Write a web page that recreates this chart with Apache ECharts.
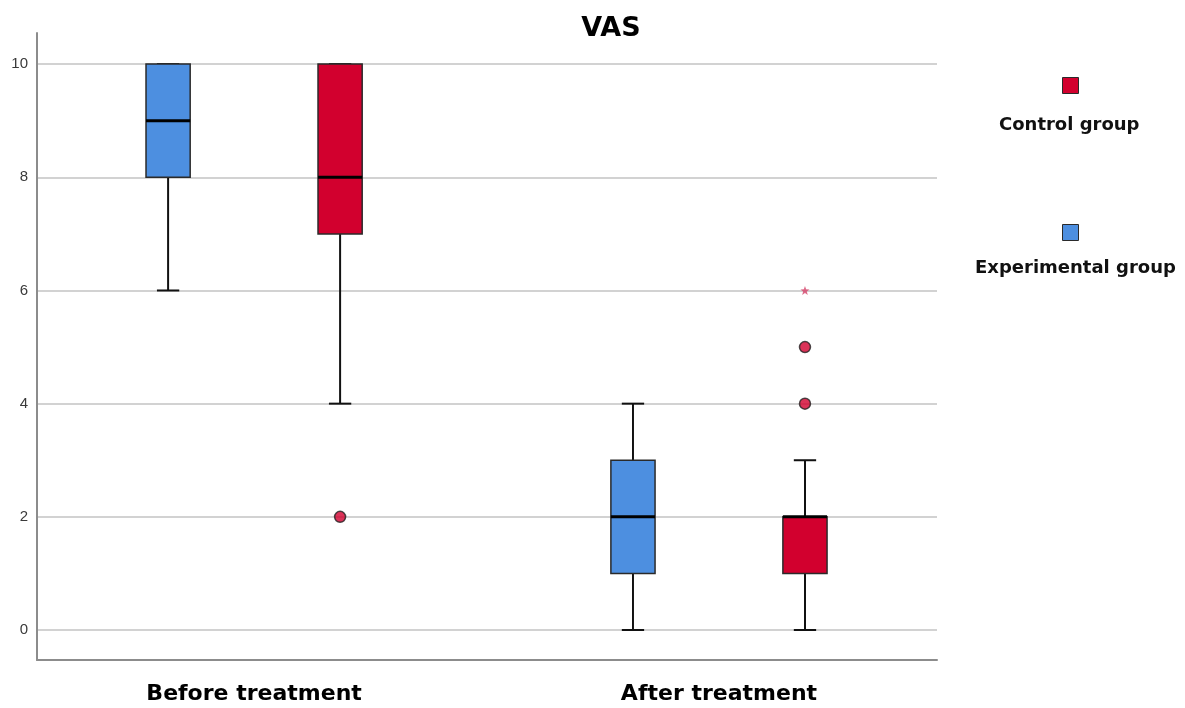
<!DOCTYPE html>
<html>
<head>
<meta charset="utf-8">
<script src="https://cdn.jsdelivr.net/npm/echarts@6/dist/echarts.min.js"></script>
<style>html,body{margin:0;padding:0;background:#fff;}#chart{width:1185px;height:708px;}</style>
</head>
<body>
<div id="chart"></div>
<script>
// ---- data ----
var categories = ['Before treatment', 'After treatment'];
var seriesNames = ['Control group', 'Experimental group'];
// [min, Q1, median, Q3, max] per category
var experimentalStats = [[6, 8, 9, 10, 10], [0, 1, 2, 3, 4]];
var controlStats = [[4, 7, 8, 10, 10], [0, 1, 2, 2, 3]];
// outliers: [categoryIndex, value]
var controlOutliers = [[0, 2], [1, 4], [1, 5]];
var controlExtremes = [[1, 6]];
var yTicks = [0, 2, 4, 6, 8, 10];

// ---- style / layout ----
var RED = '#D2002E', BLUE = '#4D8FE0', EDGE = '#2a2a2a';
var OFFSET = 0.185, BOXW = 0.095, CAPW = 0.048;
var FONT = '"DejaVu Sans"';

function boxData(stats, off) {
  return stats.map(function (s, i) { return [i + off].concat(s); });
}
function ptData(pts, off) {
  return pts.map(function (p) { return [p[0] + off, p[1]]; });
}

function renderBox(params, api) {
  var x = api.value(0);
  var mn = api.coord([x, api.value(1)]);
  var q1 = api.coord([x, api.value(2)]);
  var md = api.coord([x, api.value(3)]);
  var q3 = api.coord([x, api.value(4)]);
  var mx = api.coord([x, api.value(5)]);
  var bw = api.size([BOXW, 0])[0];
  var cw = api.size([CAPW, 0])[0];
  var cx = mn[0];
  var color = api.visual('color');
  var lineStyle = { stroke: '#111', lineWidth: 2 };
  return {
    type: 'group',
    children: [
      { type: 'line', shape: { x1: cx, y1: mn[1], x2: cx, y2: q1[1] }, style: lineStyle },
      { type: 'line', shape: { x1: cx, y1: q3[1], x2: cx, y2: mx[1] }, style: lineStyle },
      { type: 'line', shape: { x1: cx - cw / 2, y1: mn[1], x2: cx + cw / 2, y2: mn[1] }, style: lineStyle },
      { type: 'line', shape: { x1: cx - cw / 2, y1: mx[1], x2: cx + cw / 2, y2: mx[1] }, style: lineStyle },
      { type: 'rect', shape: { x: cx - bw / 2, y: q3[1], width: bw, height: q1[1] - q3[1] },
        style: { fill: color, stroke: EDGE, lineWidth: 1.5 } },
      { type: 'line', shape: { x1: cx - bw / 2, y1: md[1], x2: cx + bw / 2, y2: md[1] },
        style: { stroke: '#000', lineWidth: 3 } }
    ]
  };
}

var chart = echarts.init(document.getElementById('chart'));
chart.setOption({
  animation: false,
  backgroundColor: '#fff',
  title: {
    text: 'VAS', left: 611, top: 15, textAlign: 'center', padding: 0,
    textStyle: { fontFamily: FONT, fontSize: 27, fontWeight: 'bold', color: '#000' }
  },
  legend: [
    { data: [seriesNames[0]], left: 1062, top: 77, padding: 0, itemWidth: 16, itemHeight: 16, icon: 'rect',
      formatter: function () { return ''; }, itemStyle: { borderColor: EDGE, borderWidth: 1 }, selectedMode: false },
    { data: [seriesNames[1]], left: 1062, top: 224, padding: 0, itemWidth: 16, itemHeight: 16, icon: 'rect',
      formatter: function () { return ''; }, itemStyle: { borderColor: EDGE, borderWidth: 1 }, selectedMode: false }
  ],
  graphic: [
    { type: 'text', left: 999, top: 116, style: { text: seriesNames[0], fill: '#111',
      font: 'bold 18px ' + FONT } },
    { type: 'text', left: 975, top: 259, style: { text: seriesNames[1], fill: '#111',
      font: 'bold 18px ' + FONT } }
  ],
  grid: { left: 37, right: 248, top: 33, bottom: 48 },
  xAxis: {
    type: 'value', min: -0.467, max: 1.469,
    axisLine: { show: true, onZero: false, lineStyle: { color: '#8c8c8c', width: 2 } },
    axisTick: { show: false },
    splitLine: { show: false },
    axisLabel: {
      customValues: [0, 1], margin: 23,
      formatter: function (v) { return categories[Math.round(v)]; },
      fontFamily: FONT, fontSize: 22, fontWeight: 'bold', color: '#000'
    }
  },
  yAxis: {
    type: 'value', min: -0.53, max: 10.55,
    axisLine: { show: true, onZero: false, lineStyle: { color: '#8c8c8c', width: 2 } },
    axisTick: { show: false, customValues: yTicks },
    axisLabel: { customValues: yTicks, margin: 9, fontFamily: 'Liberation Sans', fontSize: 15, color: '#3a3a3a' },
    splitLine: { show: true, lineStyle: { color: '#d2d2d2', width: 2 } }
  },
  series: [
    { name: seriesNames[0], type: 'custom', renderItem: renderBox, color: RED, itemStyle: { color: RED },
      encode: { x: 0, y: [1, 2, 3, 4, 5] }, data: boxData(controlStats, OFFSET), z: 3 },
    { name: seriesNames[1], type: 'custom', renderItem: renderBox, color: BLUE, itemStyle: { color: BLUE },
      encode: { x: 0, y: [1, 2, 3, 4, 5] }, data: boxData(experimentalStats, -OFFSET), z: 3 },
    { name: 'outliers', type: 'scatter', symbol: 'circle', symbolSize: 11, z: 4,
      itemStyle: { color: RED, borderColor: '#222', borderWidth: 1.5 },
      data: ptData(controlOutliers, OFFSET) },
    { name: 'extremes', type: 'scatter', symbol: 'path://M0,-10 L2.4,-3.3 9.5,-3.1 3.9,1.3 5.9,8.1 0,4.1 -5.9,8.1 -3.9,1.3 -9.5,-3.1 -2.4,-3.3 Z',
      symbolSize: 9, z: 4, itemStyle: { color: '#d4436a' },
      data: ptData(controlExtremes, OFFSET) }
  ]
});
</script>
</body>
</html>
